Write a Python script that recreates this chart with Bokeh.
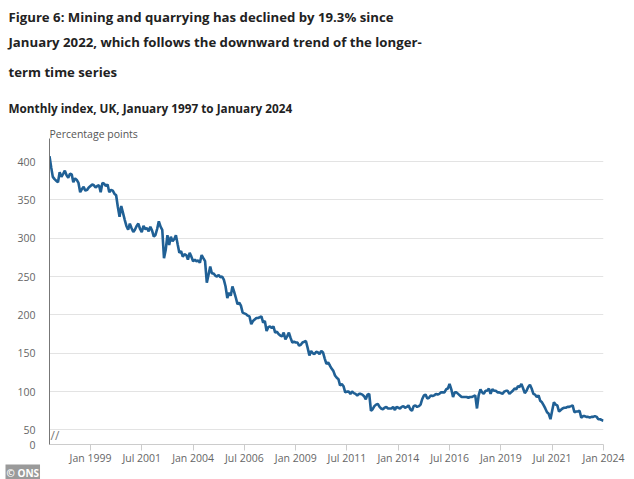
import pandas as pd
from bokeh.plotting import figure
from bokeh.models import Range1d, FixedTicker, DatetimeTickFormatter, Label, Title
from bokeh.embed import file_html
from bokeh.resources import INLINE

# ---- data (monthly index, Jan 1997 .. Jan 2024) ----
y1997 = [407, 392, 380, 377, 375, 373, 386, 380, 384, 388, 382, 379]
y1998 = [384, 383, 373, 378, 376, 372, 360, 364, 367, 362, 363, 366]
y1999 = [368, 370, 369, 366, 368, 369, 360, 372, 371, 368, 370, 360]
y2000 = [363, 362, 358, 356, 341, 328, 342, 333, 324, 316, 311, 319]
y2001 = [313, 308, 311, 316, 319, 312, 308, 316, 312, 313, 309, 315]
y2002 = [310, 302, 304, 312, 322, 315, 311, 274, 285, 304, 291, 302]
y2003 = [296, 299, 304, 292, 281, 283, 276, 279, 278, 272, 281, 276]
y2004 = [270, 272, 270, 271, 268, 278, 274, 270, 242, 252, 263, 254]
y2005 = [254, 251, 250, 252, 249, 250, 246, 237, 222, 229, 225, 237]
y2006 = [230, 222, 214, 216, 212, 203, 202, 201, 199, 198, 188, 192]
y2007 = [194, 196, 196, 197, 198, 190, 192, 179, 184, 185, 183, 185]
y2008 = [177, 178, 175, 173, 172, 177, 168, 172, 177, 170, 164, 165]
y2009 = [164, 164, 160, 161, 164, 165, 166, 157, 147, 153, 150, 149]
y2010 = [152, 151, 149, 153, 151, 143, 136, 138, 134, 130, 127, 121]
y2011 = [118, 116, 108, 110, 107, 99, 100, 100, 97, 100, 98, 97]
y2012 = [95, 97, 97, 96, 94, 90, 96, 97, 75, 77, 81, 83]
y2013 = [84, 80, 78, 77, 79, 80, 78, 78, 78, 80, 76, 80]
y2014 = [79, 78, 80, 81, 79, 80, 82, 77, 75, 81, 82, 80]
y2015 = [81, 83, 90, 95, 96, 91, 92, 95, 94, 95, 97, 96]
y2016 = [97, 99, 99, 99, 103, 104, 110, 103, 93, 99, 99, 97]
y2017 = [95, 93, 93, 93, 93, 92, 93, 93, 94, 95, 78, 95]
y2018 = [103, 99, 97, 101, 101, 104, 97, 103, 101, 101, 99, 99]
y2019 = [98, 97, 100, 101, 101, 97, 99, 101, 104, 103, 107, 106]
y2020 = [110, 104, 98, 101, 106, 109, 104, 97, 96, 93, 95, 88]
y2021 = [86, 82, 78, 73, 71, 64, 75, 86, 83, 82, 74, 76]
y2022 = [78, 79, 79, 80, 80, 81, 82, 73, 74, 74, 75, 66]
y2023 = [68, 68, 67, 67, 66, 67, 67, 68, 67, 64, 64, 63]
y2024 = [62]

values = (y1997 + y1998 + y1999 + y2000 + y2001 + y2002 + y2003 + y2004 + y2005
          + y2006 + y2007 + y2008 + y2009 + y2010 + y2011 + y2012 + y2013 + y2014
          + y2015 + y2016 + y2017 + y2018 + y2019 + y2020 + y2021 + y2022 + y2023 + y2024)
dates = pd.date_range("1997-01-01", periods=len(values), freq="MS")

x_tick_labels = ["Jan 1999", "Jul 2001", "Jan 2004", "Jul 2006", "Jan 2009",
                 "Jul 2011", "Jan 2014", "Jul 2016", "Jan 2019", "Jul 2021", "Jan 2024"]
y_grid_ticks = [50, 100, 150, 200, 250, 300, 350, 400]
y_axis_floor = 31  # shown as "0" below the axis break

title_lines = ["Figure 6: Mining and quarrying has declined by 19.3% since",
               "January 2022, which follows the downward trend of the longer-",
               "term time series"]
subtitle = "Monthly index, UK, January 1997 to January 2024"
y_unit = "Percentage points"
credit = "\u00a9 ONS"

FONT = "Open Sans"
TEXT_DARK = "#222222"
TICK_GREY = "#666666"

p = figure(width=634, height=479, x_axis_type="datetime", title_location=None,
           output_backend="svg", toolbar_location=None,
           min_border_left=49, min_border_right=31,
           min_border_top=138, min_border_bottom=33)
p.x_range = Range1d(dates[0], dates[-1])
p.y_range = Range1d(y_axis_floor, 430)
p.outline_line_color = None
p.background_fill_color = "white"

p.line(dates, values, line_color="#206095", line_width=2.6)

# x axis
tick_ms = [pd.to_datetime(t, format="%b %Y").timestamp() * 1000 for t in x_tick_labels]
p.xaxis.ticker = FixedTicker(ticks=tick_ms)
fmt = "%b %Y"
p.xaxis.formatter = DatetimeTickFormatter(days=fmt, months=fmt, years=fmt, hours=fmt,
                                          minutes=fmt, seconds=fmt, milliseconds=fmt,
                                          minsec=fmt, hourmin=fmt)
p.xaxis.axis_line_color = "#cccccc"
p.xaxis.major_tick_line_color = "#cccccc"
p.xaxis.major_tick_out = 6
p.xaxis.major_tick_in = 0
p.xaxis.minor_tick_line_color = None
p.xaxis.major_label_standoff = 0
p.xaxis.major_label_text_font = FONT
p.xaxis.major_label_text_font_size = "10.5px"
p.xaxis.major_label_text_color = TICK_GREY
p.xgrid.grid_line_color = None

# y axis
p.yaxis.ticker = FixedTicker(ticks=[y_axis_floor] + y_grid_ticks)
p.yaxis.major_label_overrides = {y_axis_floor: "0"}
p.yaxis.axis_line_color = "#777777"
p.yaxis.major_tick_line_color = None
p.yaxis.minor_tick_line_color = None
p.yaxis.major_tick_out = 0
p.yaxis.major_tick_in = 0
p.yaxis.major_label_standoff = 14
p.yaxis.major_label_text_font = FONT
p.yaxis.major_label_text_font_size = "10.5px"
p.yaxis.major_label_text_color = TICK_GREY
p.ygrid.ticker = FixedTicker(ticks=y_grid_ticks)
p.ygrid.grid_line_color = "#e3e3e3"
p.ygrid.grid_line_width = 1

# titles stacked above the frame (first added = closest to the frame)
p.add_layout(Title(text=y_unit, align="left", offset=0, standoff=-5,
                   text_font=FONT, text_font_style="normal", text_font_size="10.5px",
                   text_color="#555555"), "above")
p.add_layout(Title(text=subtitle, align="left", offset=-41, standoff=24,
                   text_font=FONT, text_font_style="bold", text_font_size="11.75px",
                   text_color=TEXT_DARK), "above")
for line, so in zip(reversed(title_lines), [9, 11, 0]):
    p.add_layout(Title(text=line, align="left", offset=-41, standoff=so,
                       text_font=FONT, text_font_style="bold", text_font_size="13.2px",
                       text_color=TEXT_DARK), "above")

# axis break mark (inside the frame corner)
p.add_layout(Label(x=1, y=1, x_units="screen", y_units="screen",
                   text="//", text_font=FONT, text_font_size="12px",
                   text_color="#777777", text_align="left", text_baseline="bottom"))

# ONS credit badge
p.add_layout(Title(text=credit, align="left", offset=-44, standoff=-6,
                   vertical_align="top",
                   text_font=FONT, text_font_style="bold", text_font_size="10px",
                   text_color="white", background_fill_color="#9a9a9a", padding=1), "below")

open("out.html", "w").write(file_html(p, INLINE))
